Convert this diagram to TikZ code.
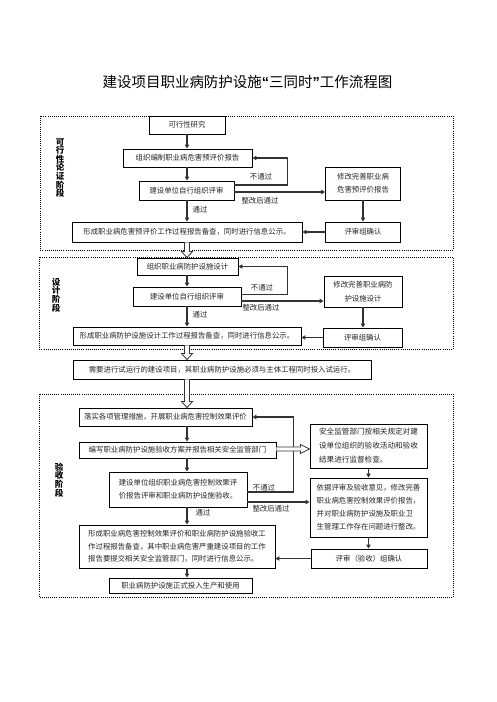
\documentclass[tikz,border=0pt]{standalone}
\usepackage{fontspec}
\setmainfont{Noto Sans CJK SC}
\newfontfamily\latinq{Liberation Sans}
\usetikzlibrary{arrows.meta,calc}
\tikzset{
 frame/.style={draw, line width=0.7pt, dash pattern=on 0.8pt off 1.3pt},
 box/.style={draw, fill=white, line width=0.9pt, inner sep=0pt, align=center, font=\fontsize{7.4}{13}\selectfont, text=black!85},
 arr/.style={draw=black!80, line width=1.1pt, -{Triangle[length=4pt,width=4.4pt]}},
 hollow/.style={draw=black!80, line width=0.8pt, fill=white},
 lbl/.style={font=\fontsize{7.4}{9}\selectfont, text=black!85, inner sep=0pt},
 stage/.style={font=\bfseries\fontsize{8.5}{8.6}\selectfont, align=center, inner sep=0pt},
}
\newcommand\hollowv[2]{\draw[hollow] ($(#1)+(-2.5,0)$) -- ($(#2)+(-2.5,-6)$) -- ($(#2)+(-5.5,-6)$) -- (#2) -- ($(#2)+(5.5,-6)$) -- ($(#2)+(2.5,-6)$) -- ($(#1)+(2.5,0)$);}
\newcommand\hollowh[2]{\draw[hollow] ($(#1)+(0,-2)$) -- ($(#2)+(-9,-2)$) -- ($(#2)+(-9,-4.5)$) -- (#2) -- ($(#2)+(-9,4.5)$) -- ($(#2)+(-9,2)$) -- ($(#1)+(0,2)$);}
\begin{document}
\begin{tikzpicture}[x=1pt,y=-1pt]
\fill[white] (0,0) rectangle (496,702);
\useasboundingbox (0,0) rectangle (496,702);

\node[font=\fontsize{14.5}{16}\selectfont] (title) at (247.5,82) {建设项目职业病防护设施{\latinq\bfseries “}三同时{\latinq\bfseries ”}工作流程图};

% stage frames
\draw[frame] (40,116) rectangle (453,250);
\draw[frame] (39,257) rectangle (453,349);
\draw[frame] (39,394) rectangle (453,597);

\node[stage] (s1) at (60,168) {可\\行\\性\\论\\证\\阶\\段};
\node[stage] (s2) at (56,295) {设\\计\\阶\\段};
\node[stage] (s3) at (59,480) {验\\收\\阶\\段};

\coordinate (col) at (187,0);

% section 1
\node[box, minimum width=76pt, minimum height=18pt] (a1) at (187,125) {可行性研究};
\node[box, minimum width=129pt, minimum height=18pt] (a2) at (187.5,158) {组织编制职业病危害预评价报告};
\node[box, minimum width=95pt, minimum height=19pt] (a3) at (186.5,190.5) {建设单位自行组织评审};
\node[box, minimum width=230pt, minimum height=20pt] (a4) at (187,232) {形成职业病危害预评价工作过程报告备查，同时进行信息公示。};
\node[box, minimum width=75pt, minimum height=33pt, font=\fontsize{7.4}{13.3}\selectfont] (a5) at (363,183.5) {修改完善职业病\\危害预评价报告};
\node[box, minimum width=75pt, minimum height=20pt] (a6) at (363,232) {评审组确认};

\draw[arr] (col |- a1.south) -- (col |- a2.north);
\draw[arr] (col |- a2.south) -- (col |- a3.north);
\draw[arr] (col |- a3.south) -- (col |- a4.north);
\draw[arr] ($(a3.east)+(0,-5.5)$) -- ++(53,0) |- (a2.east);
\draw[arr] ($(a3.east)+(0,1.5)$) coordinate (p1) -- (p1 -| a5.west);
\draw[arr] (a5.south) -- (a5.south |- a6.north);
\draw[arr] (a6.west) -- (a6.west -| a4.east);
\node[lbl] (l1) at (261,177) {不通过};
\node[lbl] (l2) at (260,201) {整改后通过};
\node[lbl] (l3) at (200,210) {通过};

% section 2
\node[box, minimum width=101pt, minimum height=17pt] (b1) at (187.5,266.5) {组织职业病防护设施设计};
\node[box, minimum width=108pt, minimum height=19pt] (b2) at (187,296.5) {建设单位自行组织评审};
\node[box, minimum width=228pt, minimum height=18pt] (b3) at (187,336) {形成职业病防护设施设计工作过程报告备查，同时进行信息公示。};
\node[box, minimum width=78pt, minimum height=31pt, font=\fontsize{7.4}{14.3}\selectfont] (b4) at (363,291.5) {修改完善职业病防\\护设施设计};
\node[box, minimum width=79pt, minimum height=19pt] (b5) at (362.5,337.5) {评审组确认};
\node[box, minimum width=298pt, minimum height=19pt] (c0) at (222,369.5) {需要进行试运行的建设项目，其职业病防护设施必须与主体工程同时投入试运行。};

\coordinate (h1s) at (col |- a4.south);
\coordinate (h1e) at (col |- b1.north);
\hollowv{h1s}{h1e}

\draw[arr] (col |- b1.south) -- (col |- b2.north);
\draw[arr] (col |- b2.south) -- (col |- b3.north);
\draw[arr] ($(b2.east)+(0,-2)$) -- ++(46,0) |- (b1.east);
\draw[arr] ($(b2.east)+(0,4.5)$) coordinate (p2) -- (p2 -| b4.west);
\draw[arr] (b4.south) -- (b4.south |- b5.north);
\draw[arr] (b5.west) -- (b5.west -| b3.east);
\node[lbl] (l4) at (262,288) {不通过};
\node[lbl] (l5) at (261,308) {整改后通过};
\node[lbl] (l6) at (200,315) {通过};

\coordinate (h2s) at (col |- b3.south);
\coordinate (h2e) at (col |- c0.north);
\hollowv{h2s}{h2e}

% section 3
\node[box, minimum width=173pt, minimum height=18pt] (d1) at (165.5,417) {落实各项管理措施，开展职业病危害控制效果评价};
\node[box, minimum width=197pt, minimum height=16pt] (d2) at (177.5,450) {编写职业病防护设施验收方案并报告相关安全监管部门};
\node[box, minimum width=138pt, minimum height=35pt, align=left, font=\fontsize{7.4}{12.7}\selectfont] (d3) at (178,489.5) {建设单位组织职业病危害控制效果评\\价报告评审和职业病防护设施验收。};
\node[box, minimum width=196pt, minimum height=43pt, align=left, font=\fontsize{7.4}{12.5}\selectfont] (d4) at (177,546.5) {形成职业病危害控制效果评价和职业病防护设施验收工\\作过程报告备查，其中职业病危害严重建设项目的工作\\报告要提交相关安全监管部门，同时进行信息公示。};
\node[box, minimum width=143pt, minimum height=15pt] (d5) at (180.5,585.5) {职业病防护设施正式投入生产和使用};

\node[box, minimum width=117pt, minimum height=44pt, align=left, font=\fontsize{7.6}{14}\selectfont] (e1) at (368.5,446) {安全监管部门按相关规定对建\\设单位组织的验收活动和验收\\结果进行监督检查。};
\node[box, minimum width=117pt, minimum height=59pt, align=left, font=\fontsize{7.4}{13}\selectfont] (e2) at (368.5,507.5) {依据评审及验收意见，修改完善\\职业病危害控制效果评价报告，\\并对职业病防护设施及职业卫\\生管理工作存在问题进行整改。};
\node[box, minimum width=116pt, minimum height=19pt] (e3) at (369,558.5) {评审（验收）组确认};

\coordinate (h3s) at (col |- c0.south);
\coordinate (h3e) at (col |- d1.north);
\hollowv{h3s}{h3e}

\draw[arr] (col |- d1.south) -- (col |- d2.north);
\draw[arr] (col |- d2.south) -- (col |- d3.north);
\draw[arr] (col |- d3.south) -- (col |- d4.north);
\draw[arr] (col |- d4.south) -- (col |- d5.north);
\draw[arr] ($(d3.east)+(0,2.5)$) -- ++(46,0) |- (d1.east);
\draw[arr] ($(d3.east)+(0,12.5)$) coordinate (p3) -- (p3 -| e2.west);
\draw[arr] (e1.south) -- (e1.south |- e2.north);
\draw[arr] (e2.south) -- (e2.south |- e3.north);
\draw[arr] (e3.west) -- (e3.west -| d4.east);
\node[lbl] (l7) at (264,488) {不通过};
\node[lbl] (l8) at (271,509) {整改后通过};
\node[lbl] (l9) at (203,513) {通过};

\coordinate (h4s) at ($(d2.east)+(0,-1)$);
\coordinate (h4e) at (h4s -| e1.west);
\hollowh{h4s}{h4e}
\end{tikzpicture}
\end{document}
